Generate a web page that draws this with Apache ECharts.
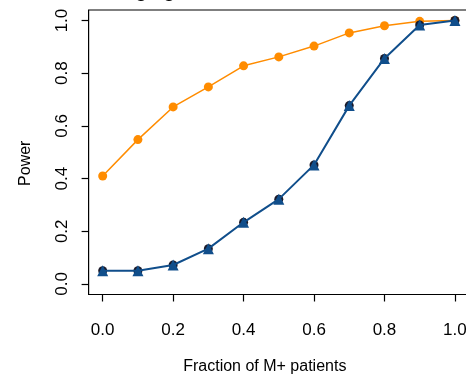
<!DOCTYPE html>
<html><head><meta charset="utf-8">
<script src="https://cdn.jsdelivr.net/npm/echarts@6/dist/echarts.min.js"></script>
<style>html,body{margin:0;padding:0;background:#fff}#c{width:466px;height:378px}</style>
</head><body><div id="c"></div>
<script>
const titleText = "Changing the fraction of M+ subsets";
const xLabel = "Fraction of M+ patients";
const yLabel = "Power";
const fractions = [0.0, 0.1, 0.2, 0.3, 0.4, 0.5, 0.6, 0.7, 0.8, 0.9, 1.0];
const powerOrange = [0.41, 0.548, 0.672, 0.748, 0.828, 0.862, 0.903, 0.953, 0.980, 0.997, 1.0];
const powerBlue = [0.05, 0.05, 0.072, 0.134, 0.234, 0.322, 0.452, 0.677, 0.856, 0.983, 1.0];
const xTicks = [0.0, 0.2, 0.4, 0.6, 0.8, 1.0];
const yTicks = [0.0, 0.2, 0.4, 0.6, 0.8, 1.0];

const font = "'Liberation Sans', Arial, sans-serif";
const pairs = (ys) => fractions.map((x, i) => [x, ys[i]]);

const chart = echarts.init(document.getElementById('c'), null, {renderer: 'canvas'});
chart.setOption({
  animation: false,
  backgroundColor: '#fff',
  title: {
    text: titleText, left: 80, top: -24,
    textStyle: {fontFamily: font, fontSize: 21, fontWeight: 'normal', color: '#000'}
  },
  grid: {left: 88.6, top: 10, right: -3, bottom: 83.5, show: true, borderColor: '#000', borderWidth: 1.2,
         containLabel: false, outerBoundsMode: 'none'},
  xAxis: {
    type: 'value', min: -0.04, max: 1.04,
    name: xLabel, nameLocation: 'middle', nameGap: 64,
    nameTextStyle: {fontFamily: font, fontSize: 16, color: '#000', padding: [0, 28, 0, 0]},
    axisLine: {show: false, onZero: false},
    axisTick: {show: true, inside: false, customValues: xTicks, length: 7, lineStyle: {color: '#000', width: 1.2}},
    axisLabel: {customValues: xTicks, margin: 27, fontFamily: font, fontSize: 17, color: '#000', formatter: v => v.toFixed(1)},
    splitLine: {show: false}
  },
  yAxis: {
    type: 'value', min: -0.04, max: 1.04,
    name: yLabel, nameLocation: 'middle', nameGap: 55, nameRotate: 90,
    nameTextStyle: {fontFamily: font, fontSize: 16, color: '#000', padding: [0, 22, 0, 0], align: 'center'},
    axisLine: {show: false, onZero: false},
    axisTick: {show: true, inside: false, customValues: yTicks, length: 7, lineStyle: {color: '#000', width: 1.2}},
    axisLabel: {customValues: yTicks, rotate: 90, margin: 18, fontFamily: font, fontSize: 17, color: '#000', formatter: v => v.toFixed(1)},
    splitLine: {show: false}
  },
  series: [
    {type: 'line', data: pairs(powerOrange), symbol: 'circle', symbolSize: 9,
     lineStyle: {color: '#FF8C00', width: 1.5}, itemStyle: {color: '#FF8C00'}, z: 3},
    {type: 'line', data: pairs(powerBlue), symbol: 'circle', symbolSize: 9,
     lineStyle: {width: 0}, itemStyle: {color: '#1a1a2a'}, z: 4},
    {type: 'line', data: pairs(powerBlue), symbol: 'triangle', symbolSize: 11,
     lineStyle: {color: '#104E8B', width: 2}, itemStyle: {color: '#104E8B'}, z: 5}
  ]
});
</script></body></html>
